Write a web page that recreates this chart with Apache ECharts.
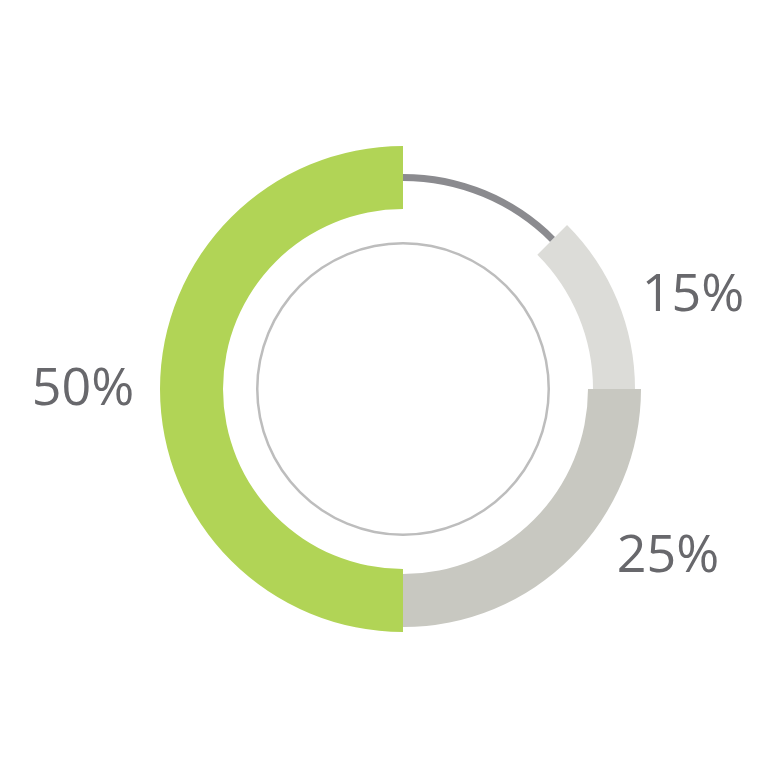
<!DOCTYPE html>
<html><head><meta charset="utf-8">
<script src="https://cdn.jsdelivr.net/npm/echarts@6/dist/echarts.min.js"></script>
<style>html,body{margin:0;padding:0;background:#fff}#c{width:768px;height:768px}</style>
</head><body><div id="c"></div>
<script>
const categories = ['rest', 'b', 'c', 'a'];
const values = [12.5, 12.5, 25, 50];
const labelTexts = [null, '15%', '25%', '50%'];
const colors = ['#8b8b8f', '#dcdcd8', '#c8c8c1', '#b1d456'];
const radii = [[208, 215], [190, 232], [185, 238], [180, 243]];
const labelPos = [null, [693, 296], [668, 557], [83, 390]];

const center = [403, 389];
const series = categories.map((cat, i) => ({
  type: 'pie',
  center: center,
  radius: radii[i],
  startAngle: 90,
  clockwise: true,
  silent: true,
  animation: false,
  label: { show: false },
  labelLine: { show: false },
  z: 2 + i,
  data: categories.map((c, j) => ({
    name: c,
    value: values[j],
    itemStyle: { color: j === i ? colors[i] : 'rgba(0,0,0,0)', borderWidth: 0 }
  }))
}));
series.push({
  type: 'pie', center: center, radius: [144.5, 147], silent: true, animation: false,
  label: { show: false }, labelLine: { show: false },
  data: [{ value: 1, itemStyle: { color: '#bdbdbd', borderWidth: 0 } }]
});

const texts = [];
labelTexts.forEach((t, i) => {
  if (!t) return;
  texts.push({
    type: 'text', x: labelPos[i][0], y: labelPos[i][1],
    style: { text: t, fill: '#68686c', font: '400 52px "Open Sans", sans-serif',
      align: 'center', verticalAlign: 'middle' }
  });
});

const chart = echarts.init(document.getElementById('c'));
chart.setOption({ backgroundColor: '#fff', series: series, graphic: texts });
</script></body></html>
